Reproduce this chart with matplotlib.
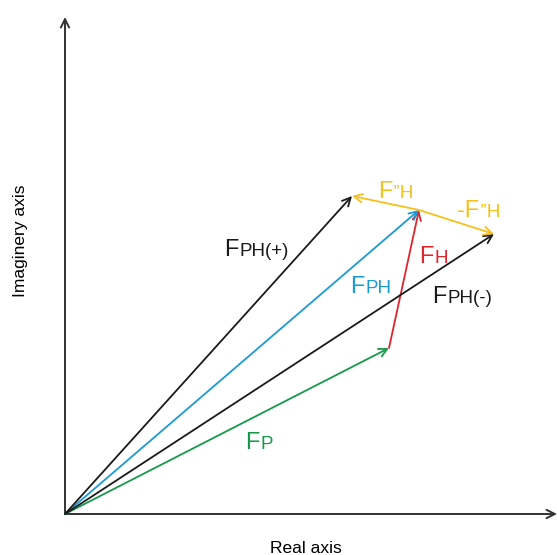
import matplotlib.pyplot as plt

plt.rcParams['font.family'] = ['Liberation Sans', 'DejaVu Sans']

# vector tips (real, imaginary), origin at (0, 0)
fp = (324, 166)
fph = (354, 304)
fph_plus = (287, 318)
fph_minus = (429, 280)

black = '#1a1a1a'
blue = '#1b9ad8'
red = '#e0242b'
green = '#169a4a'
yellow = '#f7c01c'

fig = plt.figure(figsize=(5.57, 5.55), dpi=100)
ax = fig.add_axes([0, 0, 1, 1])
ax.set_xlim(-65, 492)
ax.set_ylim(-41, 514)
ax.axis('off')


def arrow(start, end, color, lw=1.3):
    ax.annotate('', xy=end, xytext=start,
                arrowprops=dict(arrowstyle='->,head_length=0.6,head_width=0.3',
                                color=color, lw=lw, shrinkA=0, shrinkB=0))


def label(x, y, big, small, color):
    # big letter, then smaller letters on the same baseline
    t = ax.text(x, y, big, fontsize=17, color=color, va='baseline', ha='left')
    ax.annotate(small, xy=(1, y), xycoords=(t, 'data'), xytext=(0.5, 0),
                textcoords='offset points', fontsize=13.5, color=color,
                va='baseline', ha='left')


# axes
arrow((0, 0), (0, 497), '#333333', lw=1.4)
arrow((0, 0), (492, 0), '#333333', lw=1.4)

# vectors
arrow((0, 0), fp, green)
arrow(fp, fph, red)
arrow((0, 0), fph, blue)
arrow((0, 0), fph_plus, black)
arrow((0, 0), fph_minus, black)
arrow(fph, fph_plus, yellow)
arrow(fph, fph_minus, yellow)

label(159, 258, 'F', 'PH(+)', black)
label(285, 221, 'F', 'PH', blue)
label(367, 211, 'F', 'PH(-)', black)
label(354, 251, 'F', 'H', red)
label(313, 316, 'F', '’’H', yellow)
label(392, 297, '-F', '’’H', yellow)
label(180, 65, 'F', 'P', green)

ax.text(241, -39, 'Real axis', fontsize=12.5, ha='center', va='baseline')
ax.text(-44, 273, 'Imaginery axis', fontsize=12.5, rotation=90,
        ha='center', va='center')

fig.savefig('out.png', dpi=100)
